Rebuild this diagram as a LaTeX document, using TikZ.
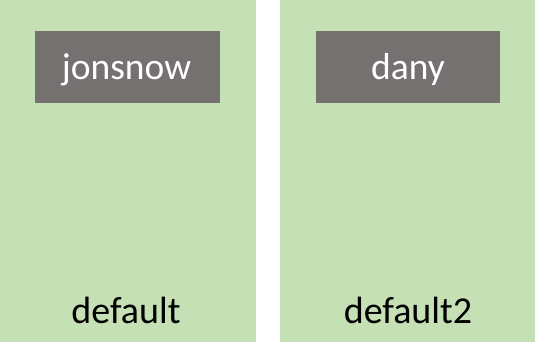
\documentclass[tikz,border=0pt]{standalone}
\usepackage{fontspec}
\setmainfont{Carlito}
\definecolor{panelgreen}{HTML}{C5E0B4}
\definecolor{boxgray}{HTML}{767171}
\begin{document}
\begin{tikzpicture}[x=1pt,y=1pt,
  panel/.style={fill=panelgreen, draw=none},
  podbox/.style={fill=boxgray, draw=none},
  podname/.style={anchor=base, text=white, font=\fontsize{37.5}{42}\selectfont, inner sep=0pt},
  nslabel/.style={anchor=base, text=black, font=\fontsize{38}{42}\selectfont, inner sep=0pt}]
\useasboundingbox (0,0) rectangle (535,356);
% two namespace panels
\fill[panel] (0,14) rectangle (256,356);
\fill[panel] (280,14) rectangle (535,356);
% pods
\fill[podbox] (35,253) rectangle (220,325);
\fill[podbox] (316,253) rectangle (500,325);
\node[podname] (jon) at (126.5,276) {jonsnow};
\node[podname] (dany) at (408,276) {dany};
% namespace names
\node[nslabel] (ns1) at (126,33) {default};
\node[nslabel] (ns2) at (408,33) {default2};
\end{tikzpicture}
\end{document}
